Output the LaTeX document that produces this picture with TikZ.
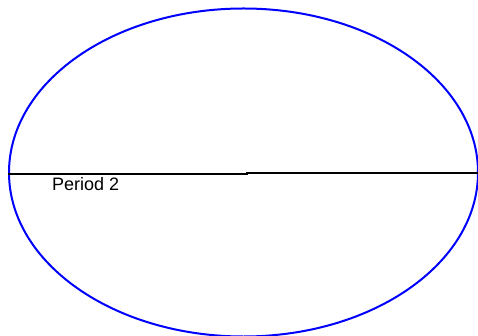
\documentclass[tikz,border=0pt]{standalone}
\usepackage{fontspec}
\setmainfont{Liberation Sans}
\begin{document}
\begin{tikzpicture}[x=1pt,y=-1pt,
  orbit/.style={draw=blue,line width=2pt},
  axis/.style={draw=black,line width=2pt},
  lbl/.style={font=\fontsize{18}{21}\selectfont,anchor=base west,inner sep=0pt}]
\useasboundingbox (0,0) rectangle (478,336);
\coordinate (c) at (243.5,172.5);
\draw[orbit] (c) ellipse [x radius=234.5, y radius=164];
\coordinate (l) at (8,174.5);
\coordinate (m1) at (247,174.5);
\coordinate (m2) at (247,173.5);
\coordinate (r) at (478,173.5);
\draw[axis] (l) -- (m1) -- (m2) -- (r);
\node[lbl] (t) at (52,191) {Period 2};
\end{tikzpicture}
\end{document}
